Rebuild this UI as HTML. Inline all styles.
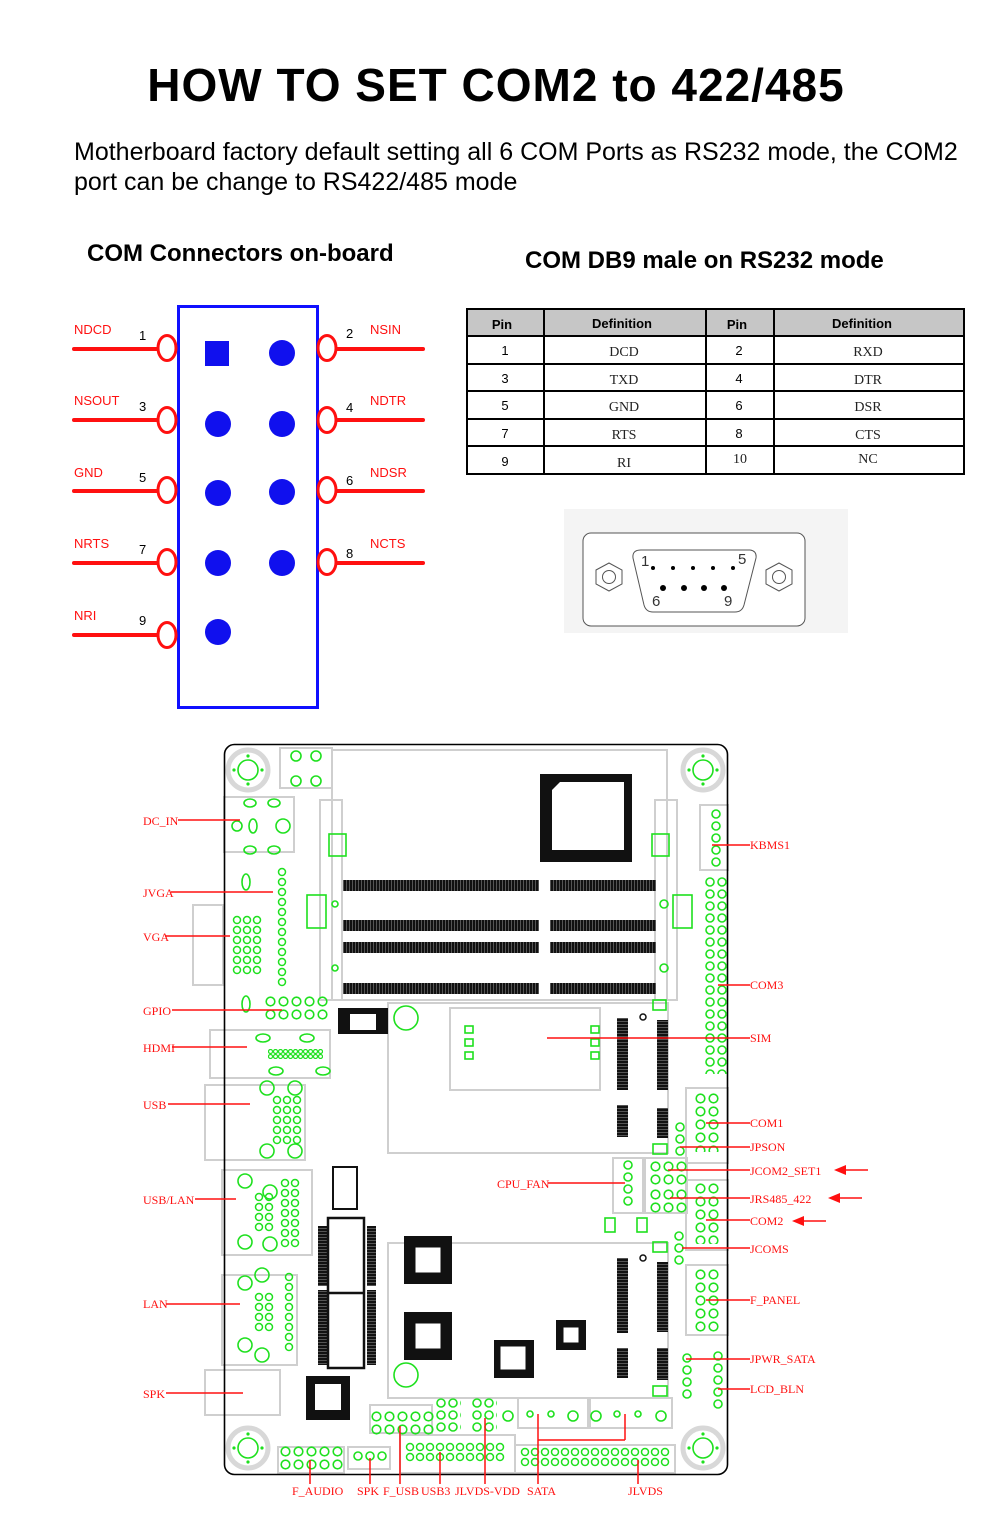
<!DOCTYPE html>
<html><head><meta charset="utf-8"><style>
html,body{margin:0;padding:0;background:#fff;}
body{width:1000px;height:1524px;position:relative;overflow:hidden;font-family:"Liberation Sans",sans-serif;}
.t{position:absolute;white-space:nowrap;}
</style></head><body>
<div class="t" style="left:0;width:992px;text-align:center;top:58px;font-size:46px;font-weight:bold;letter-spacing:1px;">HOW TO SET COM2 to 422/485</div>
<div class="t" style="left:74px;top:137px;font-size:25px;line-height:30px;">Motherboard factory default setting all 6 COM Ports as RS232 mode, the COM2<br>port can be change to RS422/485 mode</div>
<div class="t" style="left:87px;top:240px;font-size:24px;font-weight:bold;">COM Connectors on-board</div>
<div class="t" style="left:525px;top:247px;font-size:24px;font-weight:bold;">COM DB9 male on RS232 mode</div>

<svg width="1000" height="1524" style="position:absolute;left:0;top:0" xmlns="http://www.w3.org/2000/svg">
<defs>
<pattern id="p12" width="12" height="12" patternUnits="userSpaceOnUse"><circle cx="6" cy="6" r="4" fill="none" stroke="#1ee01e" stroke-width="1.6"/></pattern>
<pattern id="p13" width="13" height="13" patternUnits="userSpaceOnUse"><circle cx="6.5" cy="6.5" r="4.3" fill="none" stroke="#1ee01e" stroke-width="1.6"/></pattern>
<pattern id="p10" width="10" height="10" patternUnits="userSpaceOnUse"><circle cx="5" cy="5" r="3.5" fill="none" stroke="#1ee01e" stroke-width="1.5"/></pattern>
<pattern id="p5" width="5" height="5" patternUnits="userSpaceOnUse"><circle cx="2.5" cy="2.5" r="2" fill="none" stroke="#1ee01e" stroke-width="1.2"/></pattern>
<pattern id="bar" width="3" height="3" patternUnits="userSpaceOnUse"><rect width="3" height="3" fill="#111"/><rect x="1" width="1" height="3" fill="#555"/></pattern>
<pattern id="hbar" width="3" height="3" patternUnits="userSpaceOnUse"><rect width="3" height="3" fill="#111"/><rect y="1" width="3" height="1" fill="#555"/></pattern>
</defs>

<!-- pin diagram -->
<rect x="178.5" y="306.5" width="139" height="401" fill="none" stroke="#1010ff" stroke-width="3"/>
<rect x="205" y="341" width="24" height="25" fill="#1010ee"/>
<g fill="#1010ee">
<circle cx="282" cy="353" r="13"/>
<circle cx="218" cy="424" r="13"/><circle cx="282" cy="424" r="13"/>
<circle cx="218" cy="493" r="13"/><circle cx="282" cy="492" r="13"/>
<circle cx="218" cy="563" r="13"/><circle cx="282" cy="563" r="13"/>
<circle cx="218" cy="632" r="13"/>
</g>
<g stroke="#ff1010" stroke-width="4" stroke-linecap="round">
<line x1="74" y1="349" x2="158" y2="349"/><line x1="74" y1="420" x2="158" y2="420"/><line x1="74" y1="491" x2="158" y2="491"/><line x1="74" y1="563" x2="158" y2="563"/><line x1="74" y1="635" x2="158" y2="635"/>
<line x1="336" y1="349" x2="423" y2="349"/><line x1="336" y1="420" x2="423" y2="420"/><line x1="336" y1="491" x2="423" y2="491"/><line x1="336" y1="563" x2="423" y2="563"/>
</g>
<g fill="#fff" stroke="#ff1010" stroke-width="3">
<ellipse cx="167" cy="348" rx="9" ry="12.5"/><ellipse cx="167" cy="420" rx="9" ry="12.5"/><ellipse cx="167" cy="490" rx="9" ry="12.5"/><ellipse cx="167" cy="562" rx="9" ry="12.5"/><ellipse cx="167" cy="635" rx="9" ry="12.5"/>
<ellipse cx="327" cy="348" rx="9" ry="12.5"/><ellipse cx="327" cy="420" rx="9" ry="12.5"/><ellipse cx="327" cy="490" rx="9" ry="12.5"/><ellipse cx="327" cy="562" rx="9" ry="12.5"/>
</g>
<g font-family="Liberation Sans" font-size="13" fill="#ff1010">
<text x="74" y="334">NDCD</text><text x="74" y="405">NSOUT</text><text x="74" y="477">GND</text><text x="74" y="548">NRTS</text><text x="74" y="620">NRI</text>
<text x="370" y="334">NSIN</text><text x="370" y="405">NDTR</text><text x="370" y="477">NDSR</text><text x="370" y="548">NCTS</text>
</g>
<g font-family="Liberation Sans" font-size="13" fill="#000">
<text x="139" y="340">1</text><text x="139" y="411">3</text><text x="139" y="482">5</text><text x="139" y="554">7</text><text x="139" y="625">9</text>
<text x="346" y="338">2</text><text x="346" y="412">4</text><text x="346" y="485">6</text><text x="346" y="558">8</text>
</g>

<!-- table -->
<rect x="467" y="309" width="497" height="27" fill="#c6c6c6"/>
<g stroke="#000" stroke-width="2" fill="none">
<rect x="467" y="309" width="497" height="165"/>
<line x1="467" y1="336" x2="964" y2="336"/><line x1="467" y1="364" x2="964" y2="364"/><line x1="467" y1="391" x2="964" y2="391"/><line x1="467" y1="419" x2="964" y2="419"/><line x1="467" y1="446" x2="964" y2="446"/>
<line x1="544" y1="309" x2="544" y2="474"/><line x1="706" y1="309" x2="706" y2="474"/><line x1="774" y1="309" x2="774" y2="474"/>
</g>
<g font-family="Liberation Sans" font-size="13" font-weight="bold" text-anchor="middle">
<text x="502" y="329">Pin</text><text x="622" y="328">Definition</text><text x="737" y="329">Pin</text><text x="862" y="328">Definition</text>
</g>
<g font-family="Liberation Sans" font-size="13" text-anchor="middle">
<text x="505" y="355">1</text><text x="505" y="383">3</text><text x="505" y="410">5</text><text x="505" y="438">7</text><text x="505" y="466">9</text>
<text x="739" y="355">2</text><text x="739" y="383">4</text><text x="739" y="410">6</text><text x="739" y="438">8</text>
</g>
<g font-family="Liberation Serif" font-size="14" text-anchor="middle" fill="#222">
<text x="624" y="356">DCD</text><text x="624" y="384">TXD</text><text x="624" y="411">GND</text><text x="624" y="439">RTS</text><text x="624" y="467">RI</text>
<text x="740" y="463">10</text>
<text x="868" y="356">RXD</text><text x="868" y="384">DTR</text><text x="868" y="411">DSR</text><text x="868" y="439">CTS</text><text x="868" y="463">NC</text>
</g>

<!-- DB9 -->
<rect x="564" y="509" width="284" height="124" fill="#f4f4f4"/>
<rect x="583" y="533" width="222" height="93" rx="8" fill="#fff" stroke="#555" stroke-width="1"/>
<path d="M641,550 L750,550 Q757,551 756,558 L744,605 Q742,612 735,612 L653,612 Q646,612 644,605 L633,558 Q632,550 641,550Z" fill="#fff" stroke="#555"/>
<g fill="#000"><circle cx="653" cy="568" r="2"/><circle cx="673" cy="568" r="2"/><circle cx="693" cy="568" r="2"/><circle cx="713" cy="568" r="2"/><circle cx="733" cy="568" r="2"/>
<circle cx="663" cy="588" r="3"/><circle cx="684" cy="588" r="3"/><circle cx="704" cy="588" r="3"/><circle cx="724" cy="588" r="3"/></g>
<g font-family="Liberation Sans" font-size="15" fill="#333"><text x="641" y="566">1</text><text x="738" y="564">5</text><text x="652" y="606">6</text><text x="724" y="606">9</text></g>
<g fill="none" stroke="#555"><polygon points="596,570 609,563 622,570 622,584 609,591 596,584"/><circle cx="609" cy="577" r="6.5"/>
<polygon points="766,570 779,563 792,570 792,584 779,591 766,584"/><circle cx="779" cy="577" r="6.5"/></g>

<!-- board -->
<g fill="none" stroke="#cfcfcf" stroke-width="2">
<rect x="332" y="750" width="335" height="250"/>
<rect x="320" y="800" width="22" height="200"/><rect x="655" y="800" width="22" height="200"/>
<rect x="388" y="1003" width="280" height="150"/>
<rect x="450" y="1008" width="150" height="82"/>
<rect x="388" y="1243" width="280" height="155"/>
<rect x="280" y="748" width="52" height="40"/><rect x="224" y="797" width="70" height="55"/>
<rect x="193" y="905" width="30" height="80"/>
<rect x="210" y="1030" width="120" height="48"/>
<rect x="205" y="1085" width="100" height="75"/>
<rect x="222" y="1170" width="90" height="85"/>
<rect x="222" y="1275" width="75" height="90"/>
<rect x="205" y="1370" width="75" height="45"/>
<rect x="686" y="1088" width="42" height="75"/><rect x="686" y="1180" width="42" height="70"/><rect x="686" y="1265" width="42" height="70"/>
<rect x="700" y="805" width="28" height="65"/>
<rect x="613" y="1158" width="30" height="55"/><rect x="645" y="1158" width="42" height="55"/>
<rect x="370" y="1405" width="62" height="28"/><rect x="518" y="1398" width="70" height="30"/><rect x="590" y="1398" width="82" height="30"/>
<rect x="400" y="1435" width="115" height="38"/><rect x="515" y="1445" width="160" height="28"/>
<rect x="278" y="1447" width="66" height="26"/><rect x="348" y="1447" width="42" height="22"/>
</g>
<g fill="none" stroke="#d8d8d8" stroke-width="5">
<circle cx="248" cy="770" r="20"/><circle cx="703" cy="770" r="20"/><circle cx="248" cy="1448" r="20"/><circle cx="703" cy="1448" r="20"/>
</g>
<rect x="224.5" y="744.5" width="503" height="730" rx="10" fill="none" stroke="#000" stroke-width="1.6"/>
<g fill="#1ee01e">
<circle cx="248" cy="756" r="1.6"/><circle cx="248" cy="784" r="1.6"/><circle cx="234" cy="770" r="1.6"/><circle cx="262" cy="770" r="1.6"/>
<circle cx="703" cy="756" r="1.6"/><circle cx="703" cy="784" r="1.6"/><circle cx="689" cy="770" r="1.6"/><circle cx="717" cy="770" r="1.6"/>
<circle cx="248" cy="1434" r="1.6"/><circle cx="248" cy="1462" r="1.6"/><circle cx="234" cy="1448" r="1.6"/><circle cx="262" cy="1448" r="1.6"/>
<circle cx="703" cy="1434" r="1.6"/><circle cx="703" cy="1462" r="1.6"/><circle cx="689" cy="1448" r="1.6"/><circle cx="717" cy="1448" r="1.6"/>
</g>
<g fill="none" stroke="#1ee01e" stroke-width="1.6">
<circle cx="248" cy="770" r="10"/><circle cx="703" cy="770" r="10"/><circle cx="248" cy="1448" r="10"/><circle cx="703" cy="1448" r="10"/>
<circle cx="296" cy="756" r="5"/><circle cx="316" cy="756" r="5"/><circle cx="296" cy="781" r="5"/><circle cx="316" cy="781" r="5"/>
<ellipse cx="250" cy="803" rx="6" ry="4"/><ellipse cx="274" cy="803" rx="6" ry="4"/><ellipse cx="250" cy="850" rx="6" ry="4"/><ellipse cx="274" cy="850" rx="6" ry="4"/>
<circle cx="237" cy="826" r="5"/><ellipse cx="253" cy="826" rx="4" ry="7"/><circle cx="283" cy="826" r="7"/>
<ellipse cx="246" cy="882" rx="4" ry="8"/><ellipse cx="246" cy="1004" rx="4" ry="8"/>
<rect x="329" y="834" width="17" height="22"/><rect x="652" y="834" width="17" height="22"/>
<rect x="307" y="895" width="19" height="33"/><rect x="673" y="895" width="19" height="33"/>
<circle cx="335" cy="904" r="3"/><circle cx="335" cy="968" r="3"/><circle cx="664" cy="904" r="4"/><circle cx="664" cy="968" r="4"/>
<circle cx="406" cy="1018" r="12"/><circle cx="406" cy="1375" r="12"/>
<ellipse cx="263" cy="1038" rx="7" ry="4"/><ellipse cx="307" cy="1038" rx="7" ry="4"/><ellipse cx="276" cy="1071" rx="7" ry="4"/><ellipse cx="323" cy="1071" rx="7" ry="4"/>
<circle cx="267" cy="1088" r="7"/><circle cx="295" cy="1088" r="7"/><circle cx="267" cy="1151" r="7"/><circle cx="295" cy="1151" r="7"/>
<circle cx="245" cy="1181" r="7"/><circle cx="270" cy="1192" r="7"/><circle cx="245" cy="1242" r="7"/><circle cx="270" cy="1244" r="7"/>
<circle cx="245" cy="1283" r="7"/><circle cx="262" cy="1275" r="7"/><circle cx="245" cy="1345" r="7"/><circle cx="262" cy="1355" r="7"/>
<rect x="653" y="1000" width="13" height="10"/><rect x="653" y="1144" width="14" height="10"/><rect x="653" y="1242" width="14" height="10"/><rect x="653" y="1386" width="14" height="10"/>
<rect x="605" y="1218" width="10" height="14"/><rect x="637" y="1218" width="10" height="14"/>
<rect x="465" y="1026" width="8" height="7"/><rect x="465" y="1039" width="8" height="7"/><rect x="465" y="1052" width="8" height="7"/>
<rect x="591" y="1026" width="8" height="7"/><rect x="591" y="1039" width="8" height="7"/><rect x="591" y="1052" width="8" height="7"/>
<circle cx="508" cy="1416" r="5"/><circle cx="573" cy="1416" r="5"/><circle cx="596" cy="1416" r="5"/><circle cx="661" cy="1416" r="5"/>
<circle cx="530" cy="1414" r="3"/><circle cx="551" cy="1414" r="3"/><circle cx="617" cy="1414" r="3"/><circle cx="638" cy="1414" r="3"/>
</g>
<!-- headers -->
<g transform="translate(704,876)"><rect width="24" height="198" fill="url(#p12)"/></g>
<g transform="translate(710,808)"><rect width="12" height="60" fill="url(#p12)"/></g>
<g transform="translate(277,867)"><rect width="10" height="120" fill="url(#p10)"/></g>
<g transform="translate(232,915)"><rect width="30" height="60" fill="url(#p10)"/></g>
<g transform="translate(264,995)"><rect width="65" height="26" fill="url(#p13)"/></g>
<g transform="translate(268,1049)"><rect width="55" height="10" fill="url(#p5)"/></g>
<g transform="translate(272,1095)"><rect width="30" height="50" fill="url(#p10)"/></g>
<g transform="translate(254,1192)"><rect width="20" height="40" fill="url(#p10)"/></g>
<g transform="translate(280,1178)"><rect width="20" height="70" fill="url(#p10)"/></g>
<g transform="translate(254,1292)"><rect width="20" height="40" fill="url(#p10)"/></g>
<g transform="translate(284,1272)"><rect width="10" height="80" fill="url(#p10)"/></g>
<g transform="translate(694,1092)"><rect width="26" height="60" fill="url(#p13)"/></g>
<g transform="translate(694,1182)"><rect width="26" height="62" fill="url(#p13)"/></g>
<g transform="translate(694,1268)"><rect width="26" height="64" fill="url(#p13)"/></g>
<g transform="translate(649,1160)"><rect width="39" height="26" fill="url(#p13)"/></g>
<g transform="translate(649,1188)"><rect width="39" height="26" fill="url(#p13)"/></g>
<g transform="translate(674,1121)"><rect width="12" height="36" fill="url(#p12)"/></g>
<g transform="translate(673,1230)"><rect width="12" height="36" fill="url(#p12)"/></g>
<g transform="translate(622,1159)"><rect width="12" height="48" fill="url(#p12)"/></g>
<g transform="translate(681,1352)"><rect width="12" height="48" fill="url(#p12)"/></g>
<g transform="translate(712,1350)"><rect width="12" height="60" fill="url(#p12)"/></g>
<g transform="translate(279,1445)"><rect width="65" height="26" fill="url(#p13)"/></g>
<g transform="translate(352,1450)"><rect width="36" height="12" fill="url(#p12)"/></g>
<g transform="translate(370,1410)"><rect width="65" height="26" fill="url(#p13)"/></g>
<g transform="translate(435,1397)"><rect width="26" height="36" fill="url(#p12)"/></g>
<g transform="translate(471,1397)"><rect width="26" height="36" fill="url(#p12)"/></g>
<g transform="translate(405,1442)"><rect width="100" height="20" fill="url(#p10)"/></g>
<g transform="translate(520,1447)"><rect width="150" height="20" fill="url(#p10)"/></g>
<!-- black chips -->
<rect x="540" y="774" width="92" height="88" fill="#111"/>
<path d="M560,782 L624,782 L624,850 L552,850 L552,790Z" fill="#fff"/>
<g fill="url(#bar)">
<rect x="343" y="880" width="196" height="11"/><rect x="550" y="880" width="106" height="11"/>
<rect x="343" y="920" width="196" height="11"/><rect x="550" y="920" width="106" height="11"/>
<rect x="343" y="942" width="196" height="11"/><rect x="550" y="942" width="106" height="11"/>
<rect x="343" y="983" width="196" height="11"/><rect x="550" y="983" width="106" height="11"/>
</g>
<g fill="url(#hbar)">
<rect x="617" y="1018" width="11" height="72"/><rect x="657" y="1020" width="11" height="70"/>
<rect x="617" y="1105" width="11" height="32"/><rect x="657" y="1108" width="11" height="30"/>
<rect x="617" y="1258" width="11" height="75"/><rect x="657" y="1262" width="11" height="70"/>
<rect x="617" y="1348" width="11" height="30"/><rect x="657" y="1348" width="11" height="32"/>
<rect x="318" y="1226" width="9" height="60"/><rect x="367" y="1226" width="9" height="60"/>
<rect x="318" y="1290" width="9" height="75"/><rect x="367" y="1290" width="9" height="75"/>
</g>
<rect x="338" y="1008" width="50" height="26" fill="#111"/><rect x="350" y="1014" width="26" height="16" fill="#fff"/>
<rect x="328" y="1218" width="36" height="150" fill="#fff" stroke="#111" stroke-width="2.5"/>
<line x1="328" y1="1293" x2="364" y2="1293" stroke="#111" stroke-width="2.5"/>
<rect x="333" y="1167" width="24" height="42" fill="#fff" stroke="#111" stroke-width="2"/>
<rect x="404" y="1236" width="48" height="48" fill="#111"/><rect x="415" y="1247" width="26" height="26" fill="#fff" stroke="#111"/>
<rect x="404" y="1312" width="48" height="48" fill="#111"/><rect x="415" y="1323" width="26" height="26" fill="#fff" stroke="#111"/>
<rect x="306" y="1376" width="44" height="44" fill="#111"/><rect x="315" y="1384" width="26" height="26" fill="#fff"/>
<rect x="494" y="1340" width="40" height="38" fill="#111"/><rect x="500" y="1346" width="26" height="24" fill="#fff" stroke="#111"/>
<rect x="556" y="1320" width="30" height="30" fill="#111"/><rect x="563" y="1327" width="16" height="16" fill="#fff" stroke="#111"/>
<circle cx="643" cy="1017" r="3" fill="none" stroke="#111" stroke-width="1.5"/><circle cx="643" cy="1258" r="3" fill="none" stroke="#111" stroke-width="1.5"/>

<!-- red label lines -->
<g stroke="#ff1010" stroke-width="1.5">
<line x1="178" y1="820" x2="240" y2="820"/><line x1="171" y1="892" x2="273" y2="892"/><line x1="165" y1="936" x2="230" y2="936"/>
<line x1="172" y1="1010" x2="282" y2="1010"/><line x1="172" y1="1047" x2="247" y2="1047"/><line x1="168" y1="1104" x2="250" y2="1104"/>
<line x1="195" y1="1199" x2="236" y2="1199"/><line x1="166" y1="1304" x2="240" y2="1304"/><line x1="166" y1="1393" x2="243" y2="1393"/>
<line x1="712" y1="845" x2="750" y2="845"/><line x1="718" y1="985" x2="750" y2="985"/><line x1="547" y1="1038" x2="750" y2="1038"/>
<line x1="706" y1="1123" x2="750" y2="1123"/><line x1="680" y1="1147" x2="750" y2="1147"/><line x1="668" y1="1170" x2="750" y2="1170"/>
<line x1="670" y1="1198" x2="750" y2="1198"/><line x1="706" y1="1220" x2="750" y2="1220"/><line x1="682" y1="1248" x2="750" y2="1248"/>
<line x1="706" y1="1300" x2="750" y2="1300"/><line x1="686" y1="1359" x2="750" y2="1359"/><line x1="718" y1="1389" x2="750" y2="1389"/>
<line x1="548" y1="1183" x2="625" y2="1183"/>
<line x1="310" y1="1460" x2="310" y2="1484"/><line x1="370" y1="1458" x2="370" y2="1484"/><line x1="400" y1="1426" x2="400" y2="1484"/>
<line x1="440" y1="1452" x2="440" y2="1484"/><line x1="485" y1="1418" x2="485" y2="1484"/><line x1="538" y1="1414" x2="538" y2="1484"/>
<line x1="538" y1="1440" x2="625" y2="1440"/><line x1="625" y1="1414" x2="625" y2="1440"/><line x1="638" y1="1460" x2="638" y2="1484"/>
<line x1="868" y1="1170" x2="840" y2="1170"/><line x1="862" y1="1198" x2="834" y2="1198"/><line x1="826" y1="1221" x2="798" y2="1221"/>
</g>
<g fill="#ff1010"><polygon points="834,1170 846,1165 846,1175"/><polygon points="828,1198 840,1193 840,1203"/><polygon points="792,1221 804,1216 804,1226"/></g>
<g font-family="Liberation Serif" font-size="12" fill="#ff1010">
<text x="143" y="825">DC_IN</text><text x="143" y="897">JVGA</text><text x="143" y="941">VGA</text><text x="143" y="1015">GPIO</text>
<text x="143" y="1052">HDMI</text><text x="143" y="1109">USB</text><text x="143" y="1204">USB/LAN</text><text x="143" y="1308">LAN</text><text x="143" y="1398">SPK</text>
<text x="750" y="849">KBMS1</text><text x="750" y="989">COM3</text><text x="750" y="1042">SIM</text><text x="750" y="1127">COM1</text>
<text x="750" y="1151">JPSON</text><text x="750" y="1175">JCOM2_SET1</text><text x="750" y="1203">JRS485_422</text><text x="750" y="1225">COM2</text>
<text x="750" y="1253">JCOMS</text><text x="750" y="1304">F_PANEL</text><text x="750" y="1363">JPWR_SATA</text><text x="750" y="1393">LCD_BLN</text>
<text x="497" y="1188">CPU_FAN</text>
<text x="292" y="1495">F_AUDIO</text><text x="357" y="1495">SPK</text><text x="383" y="1495">F_USB</text><text x="421" y="1495">USB3</text>
<text x="455" y="1495">JLVDS-VDD</text><text x="527" y="1495">SATA</text><text x="628" y="1495">JLVDS</text>
</g>
</svg>
</body></html>
